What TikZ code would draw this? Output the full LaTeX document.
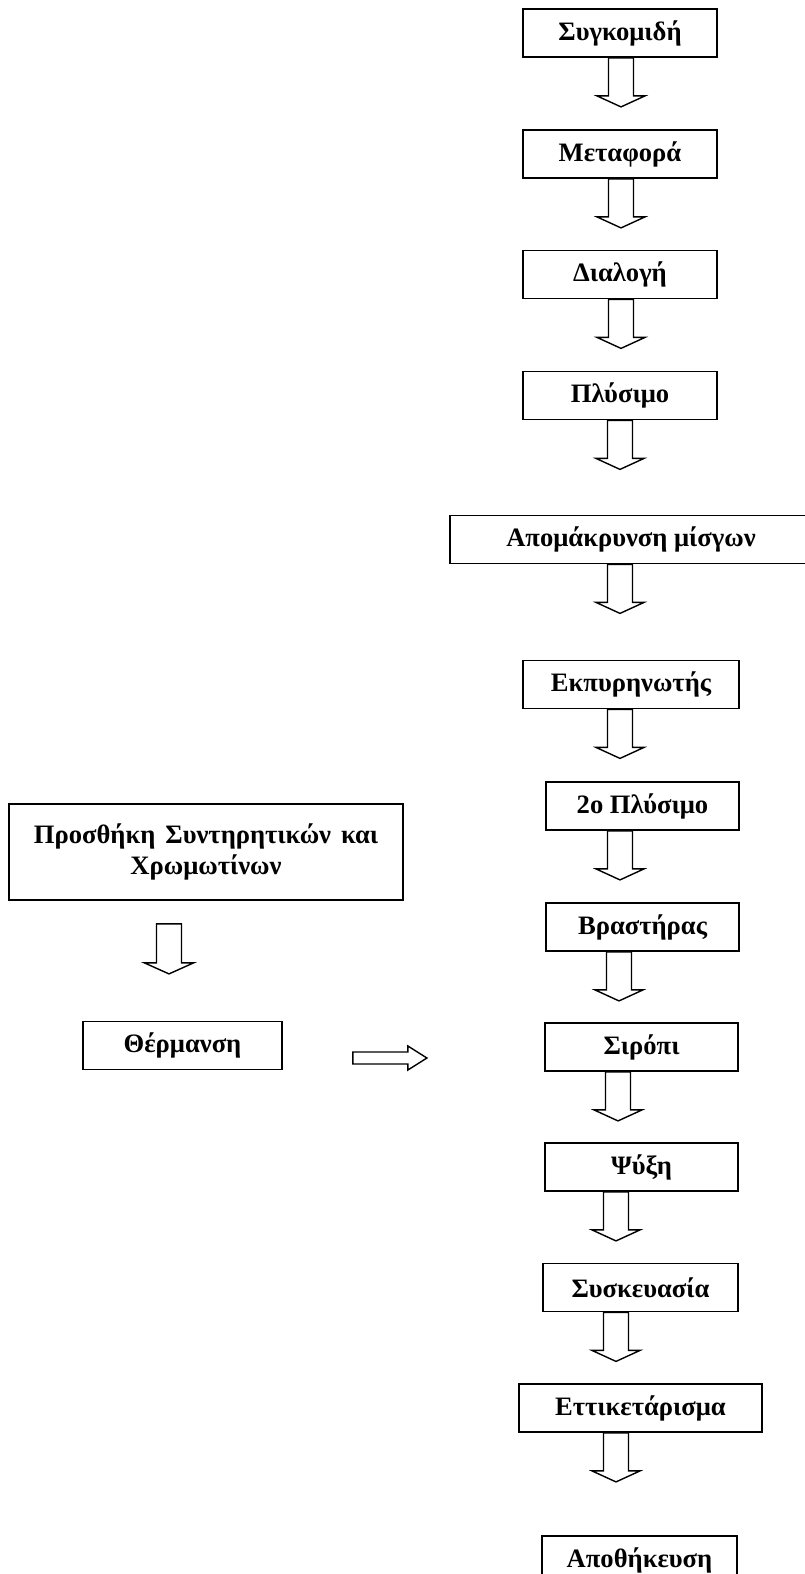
\documentclass[tikz,border=0pt]{standalone}
\usepackage{fontspec}
\setmainfont{Liberation Serif}
\newcommand{\flowdown}[2]{\draw[arrow shape] (#1,0 |- #2) ++(-12.5,0) -- ++(0,38) -- ++(-11.5,0) -- ++(24,11) -- ++(24,-11) -- ++(-11.5,0) -- ++(0,-38) -- cycle;}
\begin{document}
\begin{tikzpicture}[x=0.5pt, y=-0.5pt, step node/.style={draw, rectangle, line width=0.9pt, inner sep=0pt, minimum height=24pt, font=\fontsize{13.3}{15.5}\selectfont\bfseries}, arrow shape/.style={draw, line width=0.7pt}]

                \useasboundingbox (0,0) rectangle (804,1574);

                \node[step node, minimum width=97pt] at (620, 33) (h) {Συγκομιδή};
                \node[step node, minimum width=97pt] at (620, 154) (t) {Μεταφορά};
                \node[step node, minimum width=97pt] at (620, 274.5) (s) {Διαλογή};
                \node[step node, minimum width=97pt] at (620, 395.5) (w) {Πλύσιμο};
                \node[step node, minimum width=190pt] at (640, 539.5) (m) {\hspace*{-9pt}Απομάκρυνση μίσγων};
                \node[step node, minimum width=108pt] at (631, 684.5) (p) {Εκπυρηνωτής};
                \node[step node, minimum width=96.5pt] at (642.5, 806) (r) {2ο Πλύσιμο};
                \node[step node, minimum width=96.5pt] at (642.5, 927) (b) {Βραστήρας};
                \node[step node, minimum width=96.5pt] at (641.5, 1047) (y) {Σιρόπι};
                \node[step node, minimum width=96.5pt] at (641.5, 1167) (c) {Ψύξη};
                \node[step node, minimum width=97.5pt] at (640.5, 1287.5) (k) {Συσκευασία};
                \node[step node, minimum width=121.5pt] at (640.5, 1408) (l) {Εττικετάρισμα};
                \node[step node, minimum width=97.5pt] at (639.5, 1560) (a) {Αποθήκευση};
                \node[step node, minimum width=197pt, minimum height=48pt, align=center] at (206, 852) (x) {\spaceskip=5pt Προσθήκη Συντηρητικών και\\Χρωμωτίνων};
                \node[step node, minimum width=99.5pt] at (182.5, 1045.5) (e) {Θέρμανση};

                \flowdown{621}{h.south}
                \flowdown{621}{t.south}
                \flowdown{621}{s.south}
                \flowdown{620}{w.south}
                \flowdown{620}{m.south}
                \flowdown{620}{p.south}
                \flowdown{620}{r.south}
                \flowdown{619}{b.south}
                \flowdown{618}{y.south}
                \flowdown{616}{c.south}
                \flowdown{616}{k.south}
                \flowdown{616}{l.south}
                \draw[arrow shape] (x.south) ++(-49.5,23) -- ++(0,39) -- ++(-12,0) -- ++(24.5,11) -- ++(24.5,-11) -- ++(-12,0) -- ++(0,-39) -- cycle;
                \draw[arrow shape] (e.east) ++(70,6.5) -- ++(55,0) -- ++(0,-6) -- ++(19,12) -- ++(-19,12) -- ++(0,-6) -- ++(-55,0) -- cycle;
            \end{tikzpicture}
\end{document}
